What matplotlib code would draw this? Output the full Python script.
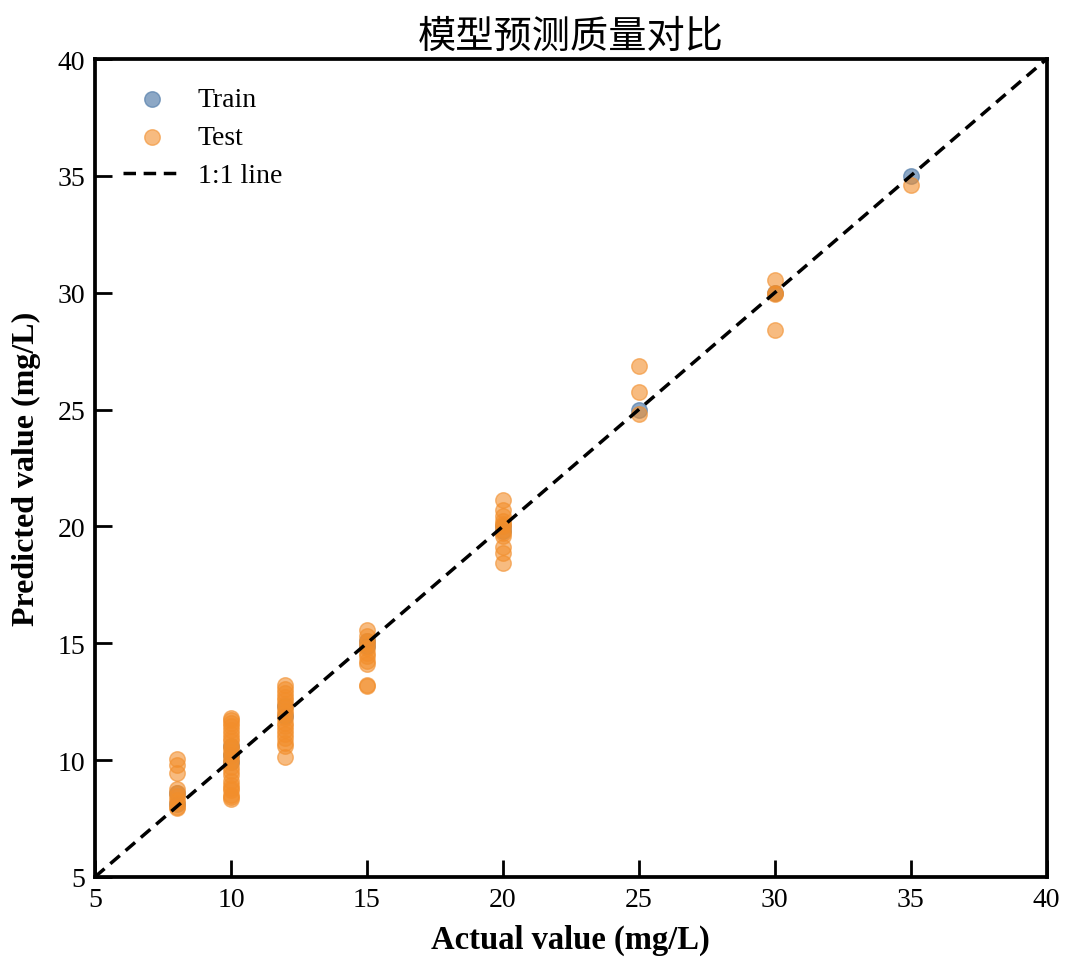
import numpy as np
import matplotlib
matplotlib.use('Agg')
import matplotlib.pyplot as plt

plt.rcParams['font.family'] = ['Liberation Serif', 'DejaVu Serif']

# 训练集 (真实值, 预测值)
train_actual = [8, 8, 10, 10, 10, 12, 12, 15, 15, 20, 20, 25, 30, 35]
train_pred = [8.1, 8.6, 9.9, 10.2, 10.6, 11.9, 12.3, 14.9, 15.1, 20.0, 19.8, 25.0, 30.0, 35.0]

# 测试集 (真实值, 预测值)
test_actual = ([8] * 10 + [10] * 24 + [12] * 18 + [15] * 11 + [20] * 12
               + [25] * 3 + [30] * 4 + [35] * 1)
test_pred = [
    # 8
    10.05, 9.8, 9.45, 8.75, 8.6, 8.45, 8.3, 8.15, 8.0, 7.95,
    # 10
    11.8, 11.72, 11.6, 11.45, 11.3, 11.1, 10.95, 10.8, 10.62, 10.5, 10.35,
    10.2, 10.05, 9.9, 9.7, 9.55, 9.35, 9.1, 8.95, 8.8, 8.7, 8.5, 8.4, 8.32,
    # 12
    13.2, 13.05, 12.85, 12.7, 12.55, 12.4, 12.25, 12.1, 11.95, 11.8, 11.6,
    11.45, 11.3, 11.1, 10.95, 10.75, 10.6, 10.15,
    # 15
    15.55, 15.3, 15.1, 14.95, 14.8, 14.6, 14.45, 14.25, 14.1, 13.2, 13.15,
    # 20
    21.15, 20.7, 20.45, 20.25, 20.1, 20.0, 19.85, 19.7, 19.6, 19.1, 18.85, 18.45,
    # 25
    26.85, 25.75, 24.8,
    # 30
    30.55, 30.0, 29.95, 28.42,
    # 35
    34.6,
]

fig = plt.figure(figsize=(10.8, 9.7), dpi=100)
ax = fig.add_axes([0.088, 0.095, 0.881, 0.843])

ax.scatter(train_actual, train_pred, s=125, color='#4e79a7', alpha=0.65,
           edgecolors='#4e79a7', linewidths=1, label='Train', zorder=2)
ax.scatter(test_actual, test_pred, s=125, color='#f28e2b', alpha=0.6,
           edgecolors='#f28e2b', linewidths=1, label='Test', zorder=3)
ax.plot([5, 40], [5, 40], color='black', linestyle='--', linewidth=2.5,
        dashes=(3.6, 2.2), label='1:1 line', zorder=4)

ax.set_xlim(5, 40)
ax.set_ylim(5, 40)
ax.set_xticks(np.arange(5, 41, 5))
ax.set_yticks(np.arange(5, 41, 5))

ax.tick_params(direction='in', length=12, width=2, labelsize=20, pad=7)
for sp in ax.spines.values():
    sp.set_linewidth(2.7)

ax.set_xlabel('Actual value (mg/L)', fontsize=23.5, fontweight='bold', labelpad=9)
ax.set_ylabel('Predicted value (mg/L)', fontsize=23, fontweight='bold', labelpad=12)
ax.set_title('模型预测质量对比', fontsize=27.5, pad=9,
             family=['Noto Sans CJK SC', 'DejaVu Sans'])

ax.legend(loc='upper left', frameon=False, fontsize=20, handlelength=2.1,
          handletextpad=0.6, borderaxespad=0.6, labelspacing=0.45)

fig.savefig('out.png', dpi=100)
